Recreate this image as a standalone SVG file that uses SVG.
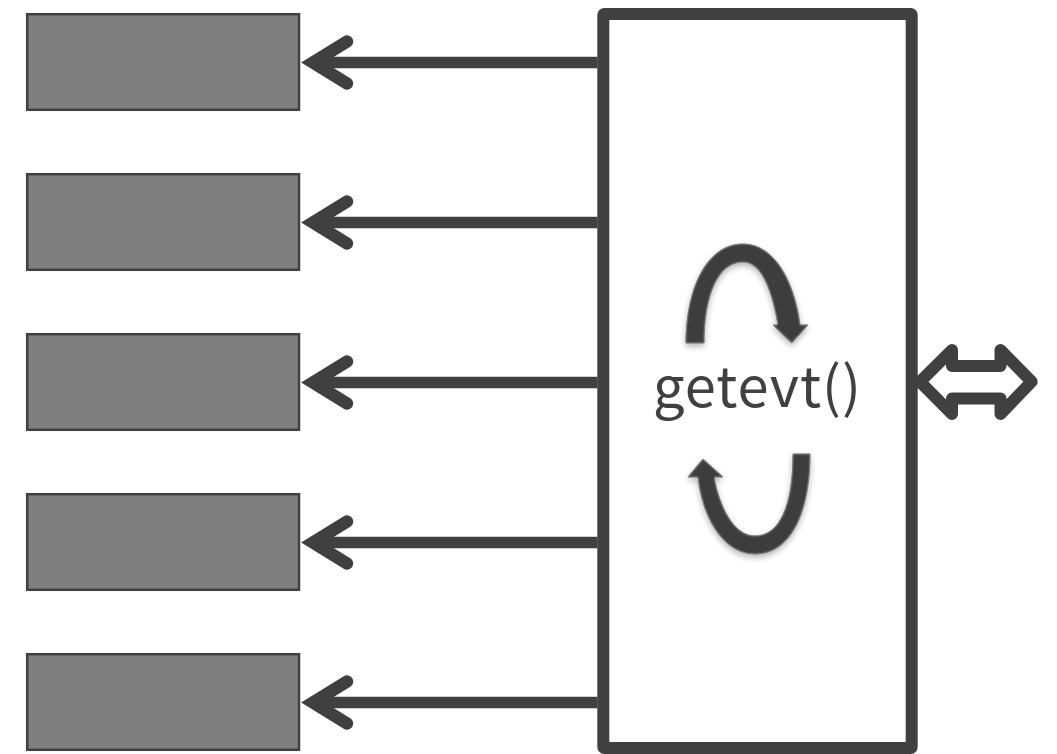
<svg xmlns="http://www.w3.org/2000/svg" width="1057" height="754" viewBox="0 0 1057 754">
<style>
.box{fill:#7f7f7f;stroke:#404040;stroke-width:2.500}
.wire{fill:none;stroke:#404040;stroke-width:12;stroke-linecap:round;stroke-linejoin:round}
.head{fill:none;stroke:#404040;stroke-width:12.500;stroke-linecap:round;stroke-linejoin:miter;stroke-miterlimit:6}
.line{fill:none;stroke:#404040;stroke-width:11.700}
.loop{fill:#3d3d3d;stroke:#555;stroke-width:1;filter:url(#bevel)}
</style>
<defs>
<filter id="bevel" x="-25%" y="-25%" width="150%" height="150%">
<feGaussianBlur in="SourceAlpha" stdDeviation="3" result="b"/>
<feOffset in="b" dy="3" result="o"/>
<feComponentTransfer in="o" result="shadow"><feFuncA type="linear" slope="0.3"/></feComponentTransfer>
<feGaussianBlur in="SourceAlpha" stdDeviation="1.200" result="e"/>
<feComposite in="SourceAlpha" in2="e" operator="out" result="edge"/>
<feFlood flood-color="#a0a0a0"/>
<feComposite in2="edge" operator="in" result="glow"/>
<feMerge><feMergeNode in="shadow"/><feMergeNode in="SourceGraphic"/><feMergeNode in="glow"/></feMerge>
</filter>
</defs>
<g id="node-1"><rect class="box" x="27.200" y="14.200" width="271.800" height="95.600"/></g>
<g id="node-2"><rect class="box" x="27.200" y="174.200" width="271.800" height="95.600"/></g>
<g id="node-3"><rect class="box" x="27.200" y="334.200" width="271.800" height="95.600"/></g>
<g id="node-4"><rect class="box" x="27.200" y="494.200" width="271.800" height="95.600"/></g>
<g id="node-5"><rect class="box" x="27.200" y="654.200" width="271.800" height="95.600"/></g>
<g id="main">
<rect x="603.300" y="14" width="308.400" height="734" rx="1" fill="#fff" stroke="#404040" stroke-width="12" stroke-linejoin="round"/>
<path class="loop" d="M686 343C686 290 706 244 743 244C776 244 795 285 800 325L808 325L791.700 343L773 325L778 325C773 295 763 262 743 262C718 262 704 295 704 343Z"/>
<path class="loop" d="M810 454C810 510 792 554 755 554C722 554 702 515 698 477L688 477L703 459L723 477L714 477C719 505 733 536 755 536C780 536 793 505 793 454Z"/>
<text x="757.500" y="407" font-family="'Noto Sans CJK JP','Liberation Sans',sans-serif" font-size="56" letter-spacing="1" fill="#404040" text-anchor="middle">getevt()</text>
</g>
<g id="connectors">
<path class="line" d="M597.500 62.500H312"/><path class="head" d="M347 41.500L313 62.500L347 83.500"/>
<path class="line" d="M597.500 222.500H312"/><path class="head" d="M347 201.500L313 222.500L347 243.500"/>
<path class="line" d="M597.500 382.500H312"/><path class="head" d="M347 361.500L313 382.500L347 403.500"/>
<path class="line" d="M597.500 542.500H312"/><path class="head" d="M347 521.500L313 542.500L347 563.500"/>
<path class="line" d="M597.500 702.500H312"/><path class="head" d="M347 681.500L313 702.500L347 723.500"/>
<path class="wire" d="M920 381.700L952 350V366H1000.500V350L1031.700 381.700L1000.500 414V398.500H952V414Z"/>
</g>
</svg>
